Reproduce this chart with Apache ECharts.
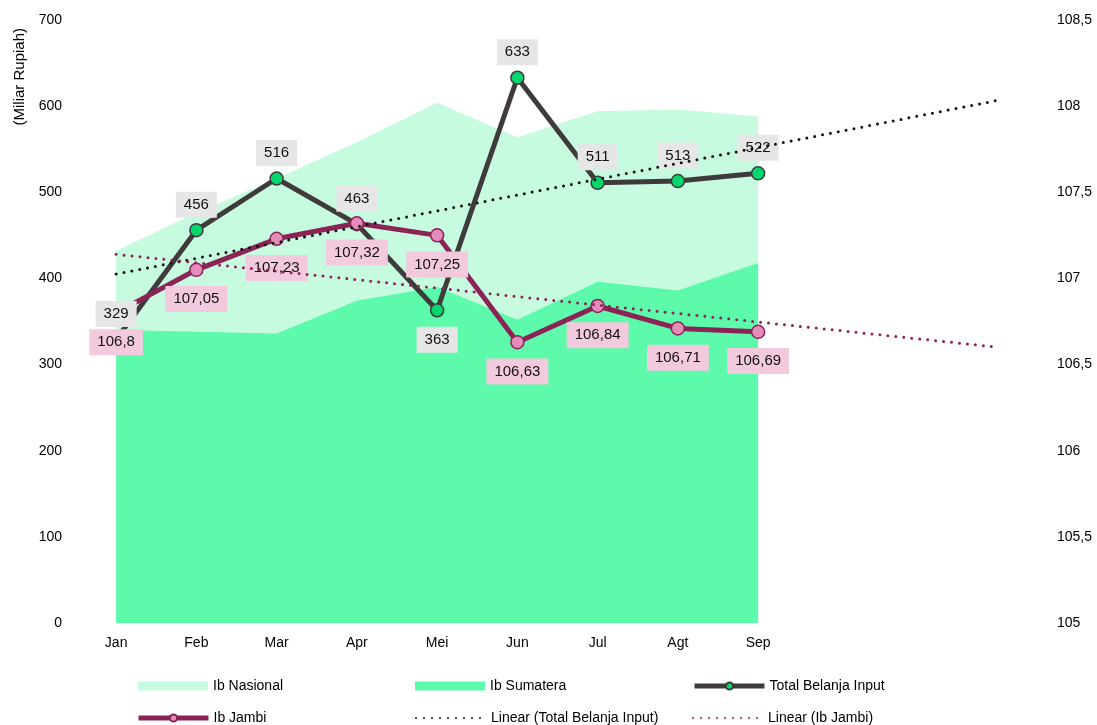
<!DOCTYPE html>
<html>
<head>
<meta charset="utf-8">
<script src="https://cdn.jsdelivr.net/npm/echarts@6/dist/echarts.min.js"></script>
<style>
  html, body { margin: 0; padding: 0; background: #fff; }
  #main { width: 1097px; height: 725px; }
</style>
</head>
<body>
<div id="main"></div>
<script>
// bulan (3 slot terakhir kosong, untuk perpanjangan garis tren)
var categories = ['Jan', 'Feb', 'Mar', 'Apr', 'Mei', 'Jun', 'Jul', 'Agt', 'Sep', '', '', ''];
var ibNasional = [107.16, 107.38, 107.58, 107.79, 108.02, 107.82, 107.97, 107.98, 107.94];
var ibSumatera = [106.70, 106.69, 106.68, 106.87, 106.95, 106.76, 106.98, 106.93, 107.09];
var totalBelanja = [329, 456, 516, 463, 363, 633, 511, 513, 522];
var ibJambi = [106.8, 107.05, 107.23, 107.32, 107.25, 106.63, 106.84, 106.71, 106.69];
// titik awal & akhir garis tren
var trendTotal = [405, 607];
var trendJambi = [107.14, 106.60];
// label total yang di bawah titik (Mei)
var totalBelow = [4];

function koma(v) {
  return String(v).replace('.', ',');
}
function ends(pair) {
  var arr = [];
  for (var i = 0; i < categories.length; i++) arr.push(null);
  arr[0] = pair[0];
  arr[categories.length - 1] = pair[1];
  return arr;
}

var totalLabelData = totalBelanja.map(function (v, i) {
  if (totalBelow.indexOf(i) >= 0) {
    return { value: [i, v], label: { position: 'bottom', distance: 10 } };
  }
  return [i, v];
});

var font = 'Liberation Sans, Arial, sans-serif';
var legendText = { fontSize: 14, color: '#000', fontFamily: font };

function leg(left, top, item) {
  return {
    left: left, top: top, itemWidth: 70, itemHeight: 9,
    textStyle: legendText, data: [item]
  };
}

var myChart = echarts.init(document.getElementById('main'));
var option = {
  animation: false,
  textStyle: { fontFamily: font },
  grid: { left: 76, right: 58, top: 20, bottom: 102 },
  graphic: [{
    type: 'text',
    left: 12,
    top: 28,
    rotation: Math.PI / 2,
    style: { text: '(Miliar Rupiah)', font: '15px ' + font, fill: '#000' }
  }],
  legend: [
    leg(133, 674, { name: 'Ib Nasional', icon: 'rect' }),
    leg(410, 674, { name: 'Ib Sumatera', icon: 'rect' }),
    leg(687, 674, { name: 'Total Belanja Input', lineStyle: { width: 5 } }),
    leg(131, 706, { name: 'Ib Jambi', lineStyle: { width: 5 } }),
    leg(410, 706, { name: 'Linear (Total Belanja Input)', itemStyle: { opacity: 0 } }),
    leg(687, 706, { name: 'Linear (Ib Jambi)', itemStyle: { opacity: 0 } })
  ],
  xAxis: {
    type: 'category',
    data: categories,
    boundaryGap: true,
    axisLine: { show: false },
    axisTick: { show: false },
    axisLabel: { color: '#000', fontSize: 14, margin: 13, interval: 0 }
  },
  yAxis: [{
    type: 'value',
    min: 0, max: 700, interval: 100,
    splitLine: { show: false },
    axisLine: { show: false },
    axisTick: { show: false },
    axisLabel: { color: '#000', fontSize: 14, margin: 14 }
  }, {
    type: 'value',
    min: 105, max: 108.5, interval: 0.5,
    splitLine: { show: false },
    axisLine: { show: false },
    axisTick: { show: false },
    axisLabel: { color: '#000', fontSize: 14, margin: 18, formatter: koma }
  }],
  series: [{
    name: 'Ib Nasional',
    type: 'line',
    yAxisIndex: 1,
    data: ibNasional,
    symbol: 'none',
    lineStyle: { width: 0 },
    itemStyle: { color: '#c6fbe0' },
    areaStyle: { color: '#c6fbe0', opacity: 1 },
    z: 1
  }, {
    name: 'Ib Sumatera',
    type: 'line',
    yAxisIndex: 1,
    data: ibSumatera,
    symbol: 'none',
    lineStyle: { width: 0 },
    itemStyle: { color: '#5cfaaa' },
    areaStyle: { color: '#5cfaaa', opacity: 1 },
    z: 1
  }, {
    name: 'Total Belanja Input',
    type: 'line',
    data: totalBelanja,
    symbol: 'circle',
    symbolSize: 13,
    lineStyle: { width: 5, color: '#403b3b' },
    itemStyle: { color: '#00d86c', borderColor: '#403b3b', borderWidth: 1.5 },
    z: 3
  }, {
    name: 'Ib Jambi',
    type: 'line',
    yAxisIndex: 1,
    data: ibJambi,
    symbol: 'circle',
    symbolSize: 13,
    lineStyle: { width: 5, color: '#8c2357' },
    itemStyle: { color: '#e68cbb', borderColor: '#8c2357', borderWidth: 1.5 },
    label: {
      show: true, position: 'bottom', distance: 9,
      fontSize: 15, color: '#111', lineHeight: 16,
      backgroundColor: '#f2c9dd', padding: [5, 8],
      formatter: function (p) { return koma(p.value); }
    },
    z: 4
  }, {
    // label angka Total Belanja, di atas semua garis
    name: 'label total',
    type: 'scatter',
    data: totalLabelData,
    symbolSize: 13,
    itemStyle: { color: 'rgba(0,0,0,0)', opacity: 1 },
    silent: true,
    label: {
      show: true, position: 'top', distance: 6,
      fontSize: 15, color: '#111', lineHeight: 16,
      backgroundColor: '#e6e6e6', padding: [5, 8],
      formatter: function (p) { return p.value[1]; }
    },
    z: 5
  }, {
    name: 'Linear (Total Belanja Input)',
    type: 'line',
    data: ends(trendTotal),
    connectNulls: true,
    symbol: 'none',
    lineStyle: { width: 3, color: '#111', type: [0, 8], cap: 'round' },
    itemStyle: { color: '#111' },
    z: 6
  }, {
    name: 'Linear (Ib Jambi)',
    type: 'line',
    yAxisIndex: 1,
    data: ends(trendJambi),
    connectNulls: true,
    symbol: 'none',
    lineStyle: { width: 3, color: '#8c2357', type: [0, 8], cap: 'round' },
    itemStyle: { color: '#8c2357' },
    z: 6
  }]
};
myChart.setOption(option);
</script>
</body>
</html>
